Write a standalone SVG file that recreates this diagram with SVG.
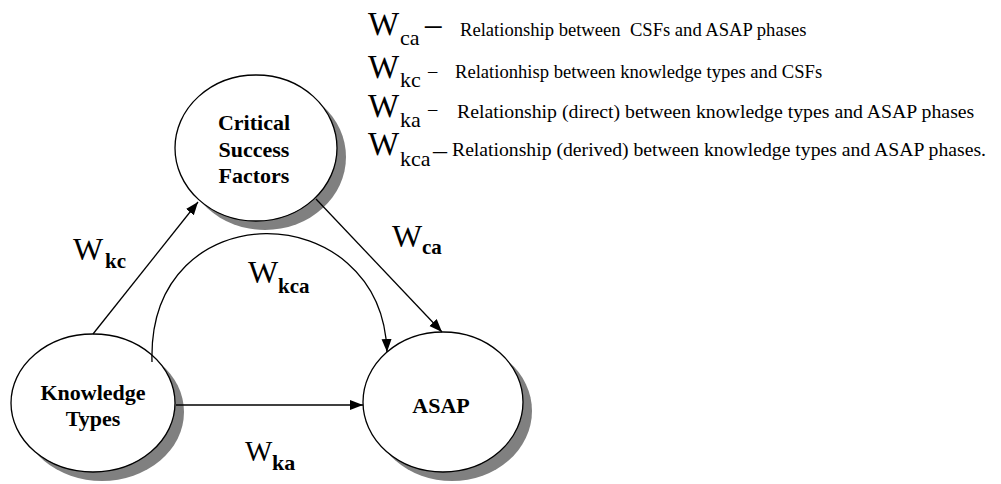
<svg xmlns="http://www.w3.org/2000/svg" width="1001" height="484" viewBox="0 0 1001 484" font-family="Liberation Serif, DejaVu Serif, serif">
<style>
text{font-family:"Liberation Serif","DejaVu Serif",serif;fill:#000}
.node{fill:#fff;stroke:#000;stroke-width:1.3}
.shadow{fill:#808080;stroke:none}
.nl{font-size:22px;font-weight:bold;text-anchor:middle}
.W{font-size:32px}
.sub{font-size:21px;font-weight:bold}
.lW{font-size:33px}
.lsub{font-size:22px}
.edge{fill:none;stroke:#000;stroke-width:1.3}
</style>
<defs>
<marker id="arr" markerUnits="userSpaceOnUse" markerWidth="14" markerHeight="12" refX="13" refY="5" orient="auto">
<path d="M0,0 L13,5 L0,10 Z" fill="#000"/>
</marker>
</defs>
<rect width="1001" height="484" fill="#fff"/>

<g id="node-csf">
<ellipse class="shadow" cx="265" cy="157" rx="81" ry="73"/>
<ellipse class="node" cx="256" cy="148" rx="81" ry="73"/>
<text class="nl" x="254" y="130">Critical</text>
<text class="nl" x="254" y="157">Success</text>
<text class="nl" x="254" y="183">Factors</text>
</g>

<g id="node-kt">
<ellipse class="shadow" cx="102" cy="412" rx="82" ry="69"/>
<ellipse class="node" cx="93" cy="403" rx="82" ry="69"/>
<text class="nl" x="93" y="400">Knowledge</text>
<text class="nl" x="93" y="426">Types</text>
</g>

<g id="node-asap">
<ellipse class="shadow" cx="452" cy="411" rx="80" ry="70"/>
<ellipse class="node" cx="443" cy="402" rx="80" ry="70"/>
<text class="nl" x="441" y="413">ASAP</text>
</g>

<g id="connectors">
<line class="edge" x1="93" y1="334" x2="198" y2="202" marker-end="url(#arr)"/>
<line class="edge" x1="316" y1="199" x2="442" y2="332" marker-end="url(#arr)"/>
<path class="edge" d="M152,362 C147,190 382,195 387,352" marker-end="url(#arr)"/>
<line class="edge" x1="176" y1="405" x2="363" y2="405" marker-end="url(#arr)"/>
</g>

<g id="edge-labels">
<text class="W" x="73" y="260">W</text><text class="sub" x="105" y="268">kc</text>
<text class="W" x="392" y="247">W</text><text class="sub" x="422" y="254">ca</text>
<text class="W" x="248" y="283">W</text><text class="sub" x="278" y="293">kca</text>
<text style="font-size:29px" x="245" y="461">W</text><text class="sub" style="font-size:22px" x="272" y="470">ka</text>
</g>

<g id="legend">
<text class="lW" x="368" y="35">W</text><text class="lsub" x="400" y="45">ca</text>
<text style="font-size:33px" x="425" y="35">–</text>
<text style="font-size:18.6px" x="460" y="36" xml:space="preserve">Relationship between  CSFs and ASAP phases</text>

<text class="lW" x="368" y="78">W</text><text class="lsub" x="400" y="87">kc</text>
<text style="font-size:18.6px" x="428" y="77">–</text>
<text style="font-size:18.6px" x="455" y="78">Relationhisp between knowledge types and CSFs</text>

<text class="lW" x="368" y="117">W</text><text class="lsub" x="400" y="127">ka</text>
<text style="font-size:18.6px" x="428" y="115">–</text>
<text style="font-size:19.8px" x="457" y="118">Relationship (direct) between knowledge types and ASAP phases</text>

<text class="lW" x="368" y="155">W</text><text class="lsub" x="400" y="166">kca</text>
<text style="font-size:28px" x="433" y="159">–</text>
<text style="font-size:19.7px" x="452" y="156">Relationship (derived) between knowledge types and ASAP phases.</text>
</g>
</svg>
